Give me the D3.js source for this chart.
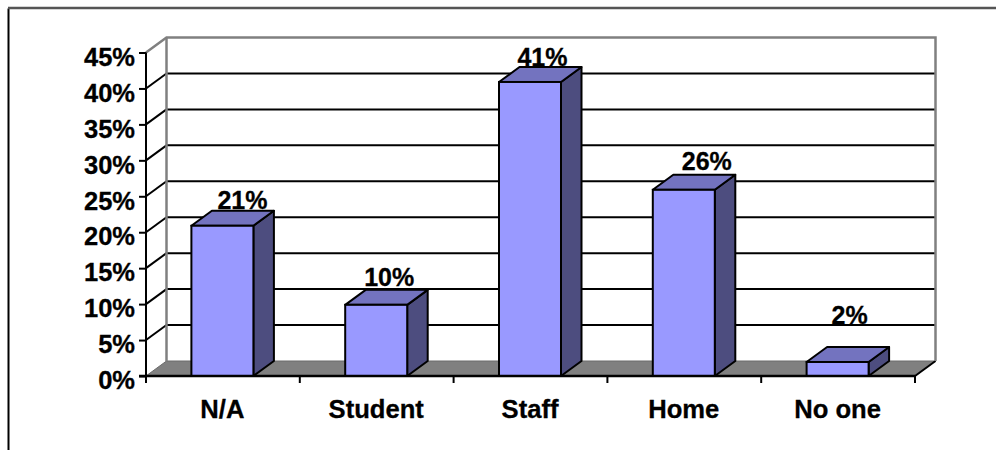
<!DOCTYPE html>
<html><head><meta charset="utf-8">
<style>html,body{margin:0;padding:0;background:#fff}svg{display:block}text{font-family:"Liberation Sans",Arial,sans-serif;font-weight:bold;fill:#000;stroke:#000;stroke-width:.3px}</style>
<script src="https://d3js.org/d3.v7.min.js"></script></head>
<body><script>
const categories = ["N/A","Student","Staff","Home","No one"];
const values = [20.9,9.9,40.9,25.9,1.95];
const yTicks = [0,5,10,15,20,25,30,35,40,45];
// hand placement of the data labels relative to each bar's top
const labelShiftX = [51,44,43.5,54,43];
const labelShiftY = [-2,-4,-1,-5,-23];

const W=996,H=450;
const svg=d3.select("body").append("svg").attr("width",W).attr("height",H);
const dx=20.5,dy=-15;
const y=d3.scaleLinear().domain([0,45]).range([376,52.5]);
const band=d3.scaleBand().domain(categories).range([145.5,914.5]);
const x0=146,x1=915;

// outer frame
svg.append("path").attr("d",`M8.5,${H}V8.5`).attr("stroke","#000").attr("stroke-width",2).attr("fill","none");
svg.append("path").attr("d",`M8,8H${W}`).attr("stroke","#555").attr("stroke-width",2.5).attr("fill","none");

// floor
svg.append("path").attr("d",`M${x0},376L${x0+dx},${376+dy}H${x1+dx}L${x1},376Z`).attr("fill","#808080").attr("stroke","#6a6a6a").attr("stroke-width",1);
svg.append("path").attr("d",`M${x1},376L${x1+dx},${376+dy}`).attr("stroke","#000").attr("stroke-width",2);

// gridlines on back wall and side wall
const inner=yTicks.filter(d=>d>0&&d<45);
svg.append("g").selectAll("line").data(inner).join("line")
 .attr("x1",x0+dx).attr("x2",x1+dx).attr("y1",d=>y(d)+dy).attr("y2",d=>y(d)+dy).attr("stroke","#000").attr("stroke-width",2);
svg.append("g").selectAll("line").data(inner).join("line")
 .attr("x1",x0).attr("x2",x0+dx).attr("y1",d=>y(d)).attr("y2",d=>y(d)+dy).attr("stroke","#000").attr("stroke-width",2);

// wall edges
svg.append("path").attr("d",`M${x0},${y(45)}L${x0+dx},${y(45)+dy}H${x1+dx}V${376+dy}`).attr("fill","none").attr("stroke","#808080").attr("stroke-width",2.5);
svg.append("path").attr("d",`M${x0+dx},${y(45)+dy}V${376+dy}`).attr("fill","none").attr("stroke","#808080").attr("stroke-width",2.5);

// bars
const bars=svg.append("g").selectAll("g").data(categories.map((c,i)=>({c,v:values[i],i}))).join("g");
const bw=62;
const left=d=>band(d.c)+band.bandwidth()/2-bw/2;
bars.append("path").attr("d",d=>{const l=left(d)+bw,t=y(d.v);return `M${l},${t}L${l+dx},${t+dy}V${376+dy}L${l},376Z`;})
 .attr("fill","#4d4d7f").attr("stroke","#000").attr("stroke-width",2).attr("stroke-linejoin","round");
bars.append("path").attr("d",d=>{const l=left(d),t=y(d.v);return `M${l},${t}L${l+dx},${t+dy}H${l+bw+dx}L${l+bw},${t}Z`;})
 .attr("fill","#7373bf").attr("stroke","#000").attr("stroke-width",2).attr("stroke-linejoin","round");
bars.append("rect").attr("x",left).attr("y",d=>y(d.v)).attr("width",bw).attr("height",d=>376-y(d.v))
 .attr("fill","#9999ff").attr("stroke","#000").attr("stroke-width",2);

// data labels
bars.append("text").attr("x",d=>left(d)+labelShiftX[d.i]).attr("y",d=>y(d.v)+dy+labelShiftY[d.i]).attr("text-anchor","middle")
 .attr("font-size",25).text(d=>Math.round(d.v)+"%");

// axes
const yAxis=d3.axisLeft(y).tickValues(yTicks).tickFormat(d=>d+"%").tickSize(7).tickPadding(5);
const gy=svg.append("g").attr("transform",`translate(${x0},0)`).call(yAxis);
gy.selectAll("path.domain").attr("stroke","#000").attr("stroke-width",2).attr("d",`M0,${y(45)}V${y(0)}`);
gy.selectAll("line").attr("stroke","#000").attr("stroke-width",2);
gy.selectAll("text").attr("font-size",25.5).attr("font-family",'"Liberation Sans"').attr("fill","#000").attr("dy","0.5em").attr("x",-11);

svg.append("line").attr("x1",x0-7).attr("x2",x1).attr("y1",376).attr("y2",376).attr("stroke","#000").attr("stroke-width",2.5);
const xt=categories.map((c,i)=>band.step()*i+x0).concat([x1]);
svg.append("g").selectAll("line").data(xt).join("line").attr("x1",d=>d).attr("x2",d=>d).attr("y1",376).attr("y2",383).attr("stroke","#000").attr("stroke-width",2);
svg.append("g").selectAll("text").data(categories).join("text").attr("x",d=>band(d)+band.bandwidth()/2).attr("y",418).attr("text-anchor","middle").attr("font-size",25.6).text(d=>d);
</script></body></html>
